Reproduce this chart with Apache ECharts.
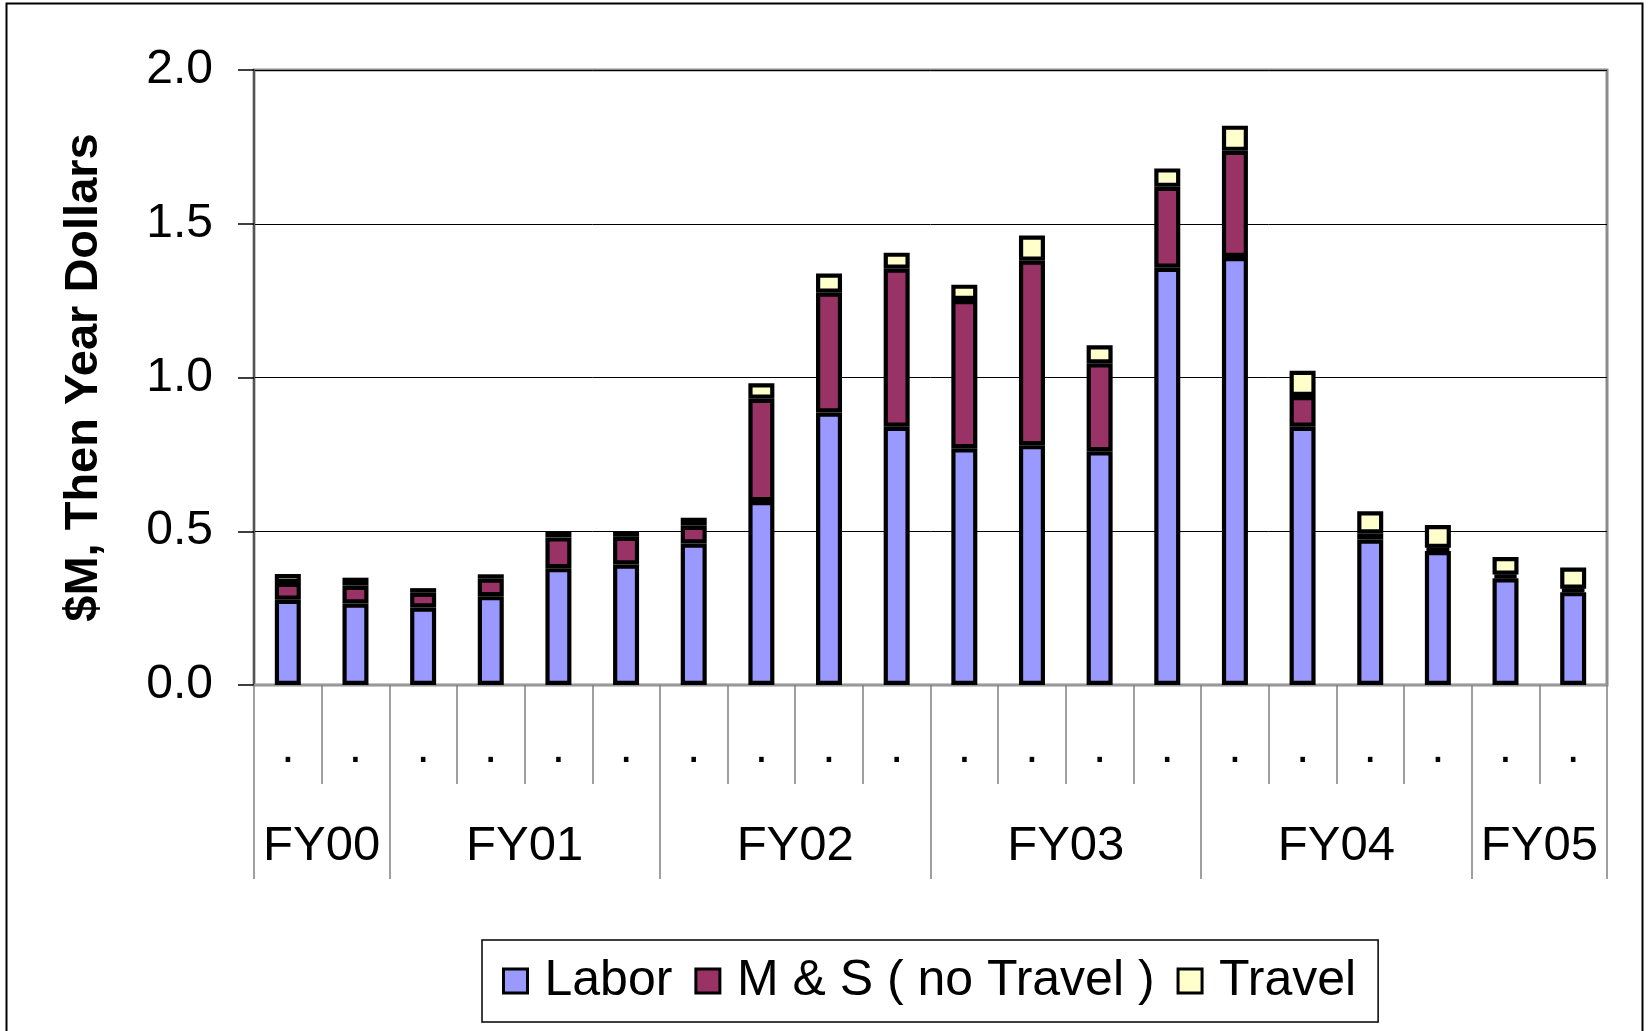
<!DOCTYPE html>
<html>
<head>
<meta charset="utf-8">
<script src="https://cdn.jsdelivr.net/npm/echarts@6/dist/echarts.min.js"></script>
<style>
html,body{margin:0;padding:0;background:#fff;}
#chart{width:1648px;height:1031px;}
</style>
</head>
<body>
<div id="chart"></div>
<script>
// ---- data ----
const categories = ['.', '.', '.', '.', '.', '.', '.', '.', '.', '.', '.', '.', '.', '.', '.', '.', '.', '.', '.', '.'];
const groupLabels = ['', 'FY00', '', '', 'FY01', '', '', '', 'FY02', '', '', '', 'FY03', '', '', '', 'FY04', '', '', 'FY05', ''];
const groupBoundaries = [0, 2, 6, 10, 14, 18, 20];
const seriesNames = ['Labor', 'M & S ( no Travel )', 'Travel'];
const labor  = [0.277, 0.265, 0.252, 0.289, 0.380, 0.392, 0.460, 0.598, 0.886, 0.840, 0.770, 0.780, 0.760, 1.357, 1.392, 0.840, 0.473, 0.436, 0.347, 0.302];
const mands  = [0.055, 0.058, 0.048, 0.057, 0.100, 0.090, 0.058, 0.333, 0.390, 0.514, 0.482, 0.600, 0.286, 0.263, 0.345, 0.100, 0.020, 0.010, 0.012, 0.011];
const travel = [0.029, 0.026, 0.015, 0.014, 0.018, 0.017, 0.026, 0.050, 0.062, 0.052, 0.050, 0.082, 0.059, 0.060, 0.082, 0.082, 0.072, 0.074, 0.057, 0.069];
const yTicks = { min: 0, max: 2, interval: 0.5 };
const colors = ['#9999FF', '#993366', '#FFFFCC'];

const FONT = 'Liberation Sans, Arial, sans-serif';
const chart = echarts.init(document.getElementById('chart'), null, { renderer: 'canvas' });

const barStyle = (c) => ({ color: c, borderColor: '#000', borderWidth: 4.2 });

chart.setOption({
  animation: false,
  backgroundColor: '#fff',
  graphic: [{
    type: 'rect',
    shape: { x: 6.5, y: 3.5, width: 1636, height: 1040 },
    style: { fill: 'none', stroke: '#000', lineWidth: 2 },
    silent: true, z: -10
  }],
  grid: {
    left: 254, right: 41, top: 70, bottom: 346,
    show: true, borderColor: '#8c8c8c', borderWidth: 3, backgroundColor: 'transparent'
  },
  legend: {
    left: 482, top: 940,
    orient: 'horizontal',
    itemWidth: 24, itemHeight: 24, itemGap: 22,
    padding: [16, 22, 16, 20],
    borderColor: '#000', borderWidth: 1.5,
    icon: 'rect',
    data: seriesNames.map(n => ({ name: n, itemStyle: { borderColor: '#000', borderWidth: 3 } })),
    textStyle: { fontFamily: FONT, fontSize: 50, color: '#000', padding: [0, 0, 0, 12] }
  },
  xAxis: [{
    type: 'category',
    data: categories,
    position: 'bottom',
    boundaryGap: true,
    axisLine: { show: true, lineStyle: { color: '#999', width: 2 } },
    axisTick: { show: true, length: 99, lineStyle: { color: '#808080', width: 1.5 } },
    axisLabel: { interval: 0, margin: 40, fontFamily: FONT, fontSize: 48, color: '#000' },
    splitLine: { show: false }
  }, {
    type: 'category',
    data: groupLabels,
    position: 'bottom',
    boundaryGap: false,
    axisLine: { show: false },
    axisTick: {
      show: true, length: 194,
      interval: (idx) => groupBoundaries.indexOf(idx) >= 0,
      lineStyle: { color: '#808080', width: 1.5 }
    },
    axisLabel: { interval: 0, margin: 137, fontFamily: FONT, fontSize: 49, color: '#000' },
    splitLine: { show: false }
  }],
  yAxis: {
    type: 'value',
    min: yTicks.min, max: yTicks.max, interval: yTicks.interval,
    name: '$M, Then Year Dollars',
    nameLocation: 'middle',
    nameRotate: 90,
    nameGap: 146,
    nameTextStyle: { fontFamily: FONT, fontSize: 47, fontWeight: 'bold', color: '#000' },
    axisLine: { show: true, lineStyle: { color: '#555', width: 2 } },
    axisTick: { show: true, length: 16, lineStyle: { color: '#000', width: 1.5 } },
    axisLabel: { margin: 41, fontFamily: FONT, fontSize: 48, color: '#000', formatter: v => v.toFixed(1) },
    splitLine: { show: true, lineStyle: { color: '#000', width: 1 } }
  },
  series: [
    { name: seriesNames[0], type: 'bar', stack: 'total', data: labor,  barWidth: 26, itemStyle: barStyle(colors[0]) },
    { name: seriesNames[1], type: 'bar', stack: 'total', data: mands,  barWidth: 26, itemStyle: barStyle(colors[1]) },
    { name: seriesNames[2], type: 'bar', stack: 'total', data: travel, barWidth: 26, itemStyle: barStyle(colors[2]) }
  ]
});
</script>
</body>
</html>
